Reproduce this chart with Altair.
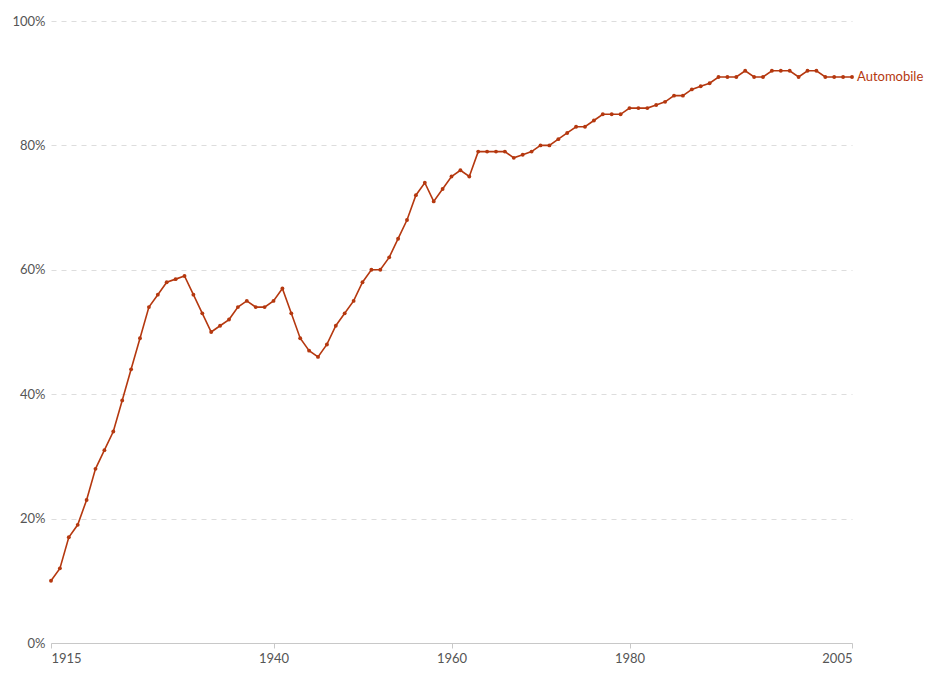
import altair as alt
import pandas as pd

years = list(range(1915, 2006))
share = [
    10, 12, 17, 19, 23, 28, 31, 34, 39, 44,
    49, 54, 56, 58, 58.5, 59, 56, 53, 50, 51,
    52, 54, 55, 54, 54, 55, 57, 53, 49, 47,
    46, 48, 51, 53, 55, 58, 60, 60, 62, 65,
    68, 72, 74, 71, 73, 75, 76, 75, 79, 79,
    79, 79, 78, 78.5, 79, 80, 80, 81, 82, 83,
    83, 84, 85, 85, 85, 86, 86, 86, 86.5, 87,
    88, 88, 89, 89.5, 90, 91, 91, 91, 92, 91,
    91, 92, 92, 92, 91, 92, 92, 91, 91, 91,
    91,
]
series_name = "Automobile"
x_ticks = [1915, 1940, 1960, 1980, 2005]
y_ticks = [0, 0.2, 0.4, 0.6, 0.8, 1.0]

df = pd.DataFrame({"year": years, "share": [v / 100 for v in share], "series": series_name})
color = "#b5380f"
font = "Lato"

x = alt.X(
    "year:Q",
    scale=alt.Scale(domain=[1915, 2005], nice=False, zero=False),
    axis=alt.Axis(
        values=x_ticks, format="d", title=None, grid=False,
        domainColor="#c8c8c8", tickColor="#c8c8c8", tickSize=5,
        labelColor="#555555", labelFont=font, labelFontSize=13,
        labelFlush=True, labelPadding=4,
    ),
)
y = alt.Y(
    "share:Q",
    scale=alt.Scale(domain=[0, 1], nice=False),
    axis=alt.Axis(
        values=y_ticks, format=".0%", title=None, domain=False, ticks=False,
        grid=True, gridDash=[5, 5], gridColor="#dddddd",
        labelColor="#555555", labelFont=font, labelFontSize=13, labelPadding=6,
    ),
)

line = alt.Chart(df).mark_line(color=color, strokeWidth=1.6, point=alt.OverlayMarkDef(color=color, size=15, filled=True)).encode(x=x, y=y)

label = alt.Chart(df[df["year"] == 2005]).mark_text(
    align="left", baseline="middle", dx=5, color=color, font=font, fontSize=13
).encode(x="year:Q", y="share:Q", text="series:N")

chart = alt.layer(line, label).properties(
    width=801, height=622,
    autosize=alt.AutoSizeParams(type="none"),
    padding={"left": 43, "top": 13, "right": 74, "bottom": 26},
).configure_view(stroke=None)

chart.save("out.html", embed_options={"renderer": "svg", "actions": False})
